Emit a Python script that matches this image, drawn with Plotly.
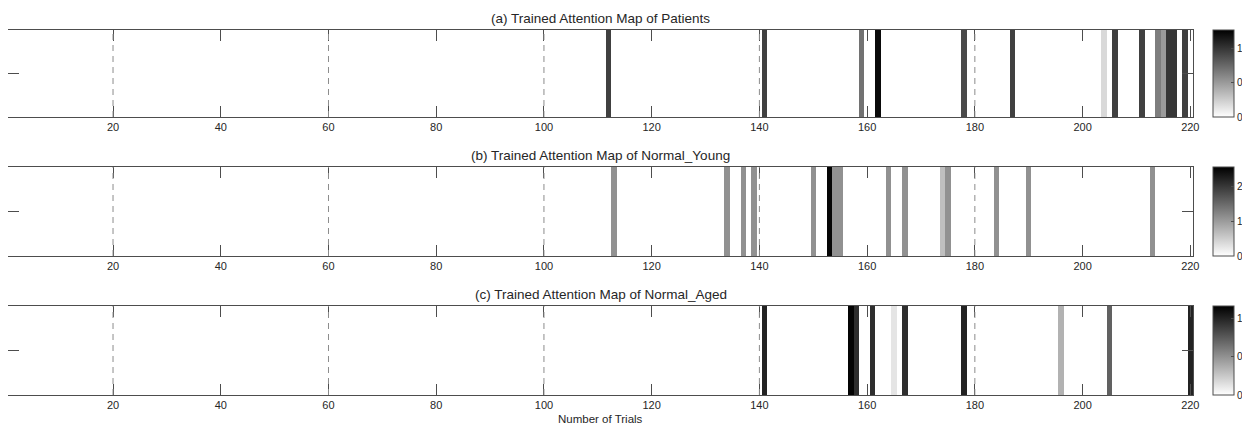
import numpy as np
import plotly.graph_objects as go

n_trials = 220
trials = list(range(1, n_trials + 1))

# Panel (a) Patients
patients_trials = [112, 141, 159, 162, 178, 187, 204, 206, 211, 214, 215, 216, 217, 219]
patients_values = [0.95, 0.95, 0.70, 1.22, 0.90, 0.95, 0.19, 0.95, 0.95, 0.64, 0.50, 1.00, 1.00, 0.95]

# Panel (b) Normal_Young
young_trials = [113, 134, 137, 139, 150, 153, 154, 155, 164, 167, 174, 175, 184, 190, 213]
young_values = [1.10, 1.10, 1.10, 1.10, 1.10, 2.50, 1.10, 1.10, 1.10, 1.10, 0.64, 1.10, 1.10, 1.10, 1.10]

# Panel (c) Normal_Aged
aged_trials = [141, 157, 158, 161, 165, 167, 178, 196, 205, 220]
aged_values = [1.00, 1.14, 0.95, 0.95, 0.12, 0.95, 1.00, 0.35, 0.72, 1.00]

titles = ["(a) Trained Attention Map of Patients",
          "(b) Trained Attention Map of Normal_Young",
          "(c) Trained Attention Map of Normal_Aged"]
cmax_list = [1.27, 2.55, 1.16]
cbar_ticks = [[0, 0.5, 1], [0, 1, 2], [0, 0.5, 1]]
dash_positions = [20, 60, 100, 140, 180]
xtick_vals = list(range(20, 221, 20))
xlabel = "Number of Trials"

# The page body has an 8px margin, so figure pixels = page pixels - 8
OFF = 8
W, H = 1250 - OFF, 427 - OFF
panel_px = [(30 - OFF, 117 - OFF), (167 - OFF, 256 - OFF), (306 - OFF, 395 - OFF)]
x_left, x_right = 8 - OFF, 1193 - OFF
cbar_x = 1213 - OFF

font_family = "Liberation Sans, Arial, Helvetica, sans-serif"
axis_col = "#4d4d4d"
text_col = "#262626"

def build_row(tr, vals):
    z = np.zeros(n_trials)
    for t, v in zip(tr, vals):
        z[t - 1] = v
    return [z.tolist()]

rows = [build_row(patients_trials, patients_values),
        build_row(young_trials, young_values),
        build_row(aged_trials, aged_values)]

fig = go.Figure()
annotations = []
shapes = []
for i, (z, cmax, ticks) in enumerate(zip(rows, cmax_list, cbar_ticks)):
    top, bot = panel_px[i]
    y0 = 1 - bot / H
    y1 = 1 - top / H
    xa = "x" if i == 0 else f"x{i+1}"
    ya = "y" if i == 0 else f"y{i+1}"
    fig.add_trace(go.Heatmap(
        z=z, x=trials, y=[1],
        zmin=0, zmax=cmax,
        colorscale=[[0, "#ffffff"], [1, "#000000"]],
        xaxis=xa, yaxis=ya,
        colorbar=dict(
            x=cbar_x / W, xanchor="left", xpad=0,
            y=(y0 + y1) / 2, yanchor="middle", len=(y1 - y0), lenmode="fraction",
            thickness=21, outlinecolor=axis_col, outlinewidth=1,
            tickvals=ticks, ticks="inside", ticklen=3, tickcolor=axis_col,
            tickfont=dict(size=10, color=text_col, family=font_family),
            ypad=0,
        ),
        hoverinfo="skip",
    ))
    axname_x = "xaxis" if i == 0 else f"xaxis{i+1}"
    axname_y = "yaxis" if i == 0 else f"yaxis{i+1}"
    fig.layout[axname_x] = dict(
        domain=[x_left / W, x_right / W], anchor=ya,
        range=[0.5, 220.5], tickvals=xtick_vals,
        showline=True, mirror="allticks", linecolor=axis_col, linewidth=1,
        ticks="inside", ticklen=11, tickcolor=axis_col, tickwidth=1,
        showgrid=False, zeroline=False,
        tickfont=dict(size=11, color=text_col, family=font_family),
    )
    fig.layout[axname_y] = dict(
        domain=[y0, y1], anchor=xa,
        range=[0.5, 1.5], tickvals=[1], showticklabels=False,
        showline=True, mirror="allticks", linecolor=axis_col, linewidth=1,
        ticks="inside", ticklen=11, tickcolor=axis_col, tickwidth=1,
        showgrid=False, zeroline=False,
    )
    annotations.append(dict(
        text=titles[i], xref="paper", yref="paper",
        x=(x_left + x_right) / 2 / W, y=y1, yshift=2,
        xanchor="center", yanchor="bottom", showarrow=False,
        font=dict(size=13.5, color=text_col, family=font_family),
    ))
    for d in dash_positions:
        shapes.append(dict(
            type="line", xref=xa, yref=f"{ya} domain",
            x0=d, x1=d, y0=0, y1=1,
            line=dict(color="#8c8c8c", width=1, dash="6px,5px"),
            layer="above",
        ))

annotations.append(dict(
    text=xlabel, xref="paper", yref="paper",
    x=(x_left + x_right) / 2 / W, y=1 - (419 - OFF) / H,
    xanchor="center", yanchor="middle", showarrow=False,
    font=dict(size=11.5, color=text_col, family=font_family),
))

fig.update_layout(
    width=W, height=H,
    margin=dict(l=0, r=0, t=0, b=0, autoexpand=False),
    paper_bgcolor="white", plot_bgcolor="white",
    annotations=annotations, shapes=shapes,
    font=dict(family=font_family, color=text_col),
)

fig.write_html("out.html")
